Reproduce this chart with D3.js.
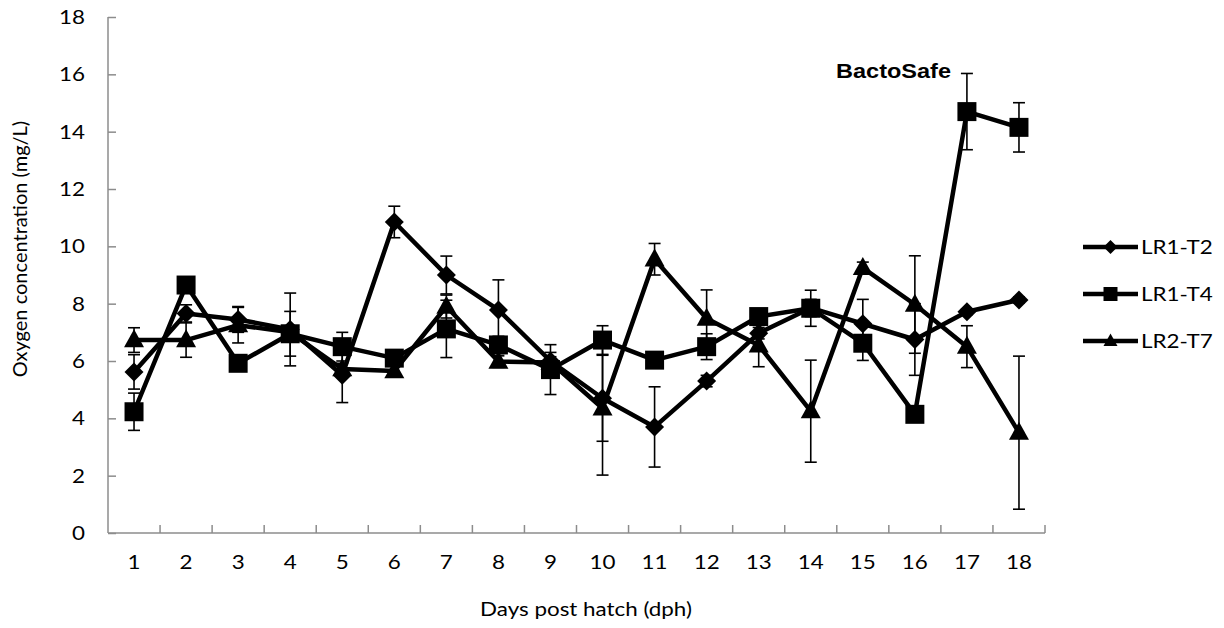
<!DOCTYPE html>
<html>
<head>
<meta charset="utf-8">
<script src="https://cdn.jsdelivr.net/npm/d3@7"></script>
<style>
  body { margin: 0; background: #fff; }
  text { font-family: Lato, "Open Sans", sans-serif; fill: #000; }
</style>
</head>
<body>
<div id="chart"></div>
<script>
const days = [1, 2, 3, 4, 5, 6, 7, 8, 9, 10, 11, 12, 13, 14, 15, 16, 17, 18];
const yTicks = [0, 2, 4, 6, 8, 10, 12, 14, 16, 18];

const t2 = [5.62, 7.66, 7.45, 7.1, 5.5, 10.85, 9.0, 7.78, 6.0, 4.7, 3.7, 5.3, 6.97, 7.85, 7.3, 6.75, 7.72, 8.13];
const t2Err = [0.6, 0.3, 0.45, 1.27, 0.95, 0.55, 0.66, 1.05, 0.3, 1.5, 1.4, 0.2, 0.2, 0.3, 0.85, 1.25, 0.1, 0.1];

const t4 = [4.23, 8.65, 5.92, 6.95, 6.5, 6.1, 7.12, 6.56, 5.7, 6.73, 6.03, 6.5, 7.55, 7.84, 6.62, 4.14, 14.7, 14.15];
const t4Err = [0.65, 0.2, 0.2, 0.78, 0.5, 0.2, 1.0, 0.3, 0.87, 0.5, 0.2, 0.45, 0.2, 0.63, 0.6, 0.2, 1.33, 0.86];

const t7 = [6.73, 6.73, 7.25, 7.0, 5.72, 5.65, 7.9, 5.98, 5.95, 4.35, 9.55, 7.48, 6.55, 4.25, 9.25, 7.97, 6.5, 3.5];
const t7Err = [0.43, 0.6, 0.62, 0.2, 0.2, 0.2, 0.4, 0.2, 0.2, 2.33, 0.55, 1.0, 0.75, 1.78, 0.2, 1.7, 0.73, 2.67];

const seriesNames = ["LR1-T2", "LR1-T4", "LR2-T7"];
const seriesShapes = ["diamond", "square", "triangle"];

const series = [
  { name: seriesNames[0], shape: seriesShapes[0], values: t2, errors: t2Err },
  { name: seriesNames[1], shape: seriesShapes[1], values: t4, errors: t4Err },
  { name: seriesNames[2], shape: seriesShapes[2], values: t7, errors: t7Err }
];

const W = 1224, H = 628;
const plot = { left: 108, right: 1045, top: 17, bottom: 533 };
// the original figure is a bit stretched sideways, so horizontal text gets widened
const stretch = 1.12;

const svg = d3.select("#chart").append("svg")
  .attr("width", W)
  .attr("height", H);

// text placed at (px,py) and widened around that point
function wideText(parent, px, py, str, size, anchor) {
  return parent.append("text")
    .attr("transform", `translate(${px},${py}) scale(${stretch},1)`)
    .attr("text-anchor", anchor || "start")
    .style("font-size", size + "px")
    .text(str);
}

const x = d3.scaleBand()
  .domain(days)
  .range([plot.left, plot.right]);

const y = d3.scaleLinear()
  .domain([0, 18])
  .range([plot.bottom, plot.top]);

const axisColor = "#8c8c8c";

// y axis, ticks point into the plot
const yAxis = svg.append("g")
  .attr("transform", `translate(${plot.left},0)`)
  .call(d3.axisRight(y).tickValues(yTicks).tickSize(8).tickFormat(""));
yAxis.select(".domain").attr("stroke", axisColor).attr("stroke-width", 1.5)
  .attr("d", `M0,${plot.top}H0V${plot.bottom}`);
yAxis.selectAll(".tick line").attr("stroke", axisColor).attr("stroke-width", 1.5);

const yLabels = svg.append("g");
yTicks.forEach(t => {
  wideText(yLabels, 85, y(t) + 7, t, 20, "end");
});

// x axis, tick marks on band edges
const xAxis = svg.append("g")
  .attr("transform", `translate(0,${plot.bottom})`);
xAxis.append("line")
  .attr("x1", plot.left).attr("x2", plot.right)
  .attr("stroke", axisColor).attr("stroke-width", 1.5);
xAxis.selectAll(".xt")
  .data(days)
  .join("line")
  .attr("class", "xt")
  .attr("x1", d => x(d) + x.bandwidth())
  .attr("x2", d => x(d) + x.bandwidth())
  .attr("y1", 0).attr("y2", -8)
  .attr("stroke", axisColor).attr("stroke-width", 1.5);
days.forEach(d => {
  wideText(xAxis, x(d) + x.bandwidth() / 2, 36, d, 20, "middle");
});

wideText(svg, 586, 616, "Days post hatch (dph)", 20, "middle");

svg.append("text")
  .attr("transform", "translate(27,249) rotate(-90)")
  .attr("text-anchor", "middle")
  .style("font-size", "20px")
  .text("Oxygen concentration (mg/L)");

const cx = i => x(days[i]) + x.bandwidth() / 2;

function markerPath(shape, s) {
  if (shape === "square") return `M${-s/2},${-s/2}h${s}v${s}h${-s}Z`;
  if (shape === "diamond") return `M0,${-s/2}L${s/2},0L0,${s/2}L${-s/2},0Z`;
  const h = s * 0.9;
  return `M0,${-h*0.6}L${s/2},${h*0.4}L${-s/2},${h*0.4}Z`;
}
const markerSize = { square: 19, diamond: 19, triangle: 20 };

const line = d3.line()
  .x((d, i) => cx(i))
  .y(d => y(d));

// lines
series.forEach(s => {
  svg.append("path")
    .datum(s.values)
    .attr("fill", "none")
    .attr("stroke", "#000")
    .attr("stroke-width", 4.5)
    .attr("stroke-linejoin", "round")
    .attr("d", line);
});

// error bars
series.forEach(s => {
  const g = svg.append("g").attr("stroke", "#000").attr("stroke-width", 1.6);
  s.values.forEach((v, i) => {
    const lo = y(v - s.errors[i]), hi = y(v + s.errors[i]);
    g.append("line").attr("x1", cx(i)).attr("x2", cx(i)).attr("y1", lo).attr("y2", hi);
    g.append("line").attr("x1", cx(i) - 6).attr("x2", cx(i) + 6).attr("y1", lo).attr("y2", lo);
    g.append("line").attr("x1", cx(i) - 6).attr("x2", cx(i) + 6).attr("y1", hi).attr("y2", hi);
  });
});

// markers
series.forEach(s => {
  svg.append("g").selectAll("path")
    .data(s.values)
    .join("path")
    .attr("transform", (d, i) => `translate(${cx(i)},${y(d)})`)
    .attr("d", markerPath(s.shape, markerSize[s.shape]))
    .attr("fill", "#000");
});

wideText(svg, 951, 78, "BactoSafe", 21, "end")
  .style("font-family", "'Liberation Sans', Arial, sans-serif")
  .style("font-weight", "bold");

// legend
const legendY = [247, 294, 341];
series.forEach((s, i) => {
  const g = svg.append("g").attr("transform", `translate(1083,${legendY[i]})`);
  g.append("line").attr("x1", 0).attr("x2", 55)
    .attr("stroke", "#000").attr("stroke-width", 4.5);
  g.append("path")
    .attr("transform", "translate(27.5,0)")
    .attr("d", markerPath(s.shape, 14))
    .attr("fill", "#000");
  wideText(g, 58, 7, s.name, 20, "start");
});
</script>
</body>
</html>
